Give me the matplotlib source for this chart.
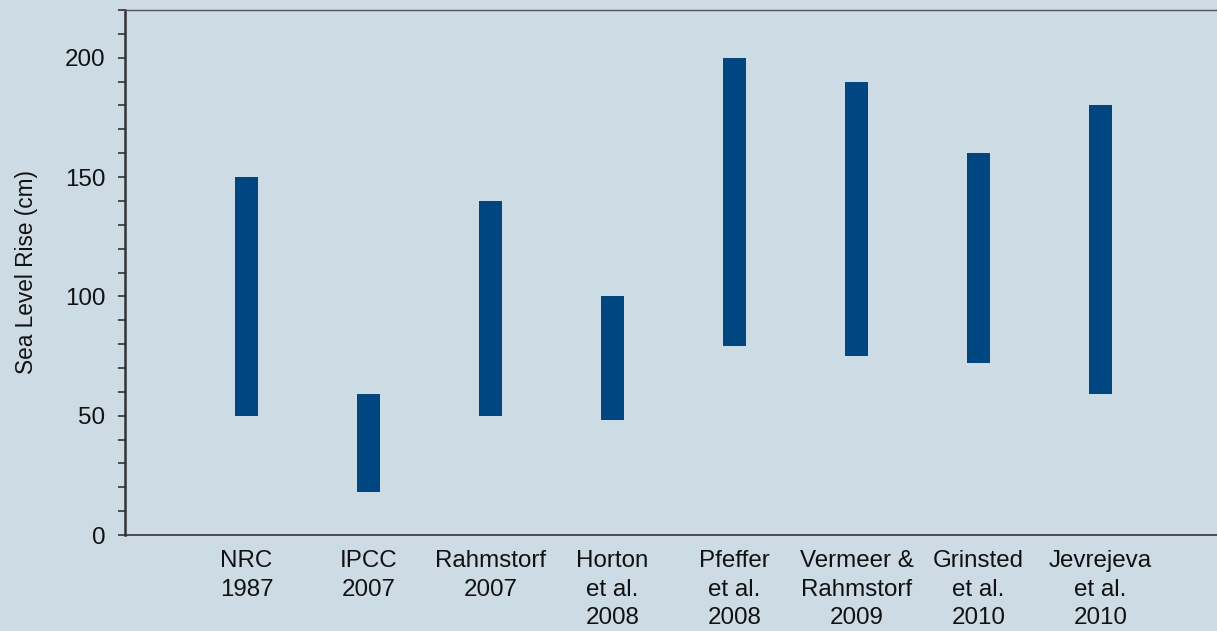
import matplotlib
matplotlib.use("Agg")
import matplotlib.pyplot as plt
from matplotlib.ticker import MultipleLocator

categories = ["NRC\n1987", "IPCC\n2007", "Rahmstorf\n2007", "Horton\net al.\n2008",
              "Pfeffer\net al.\n2008", "Vermeer &\nRahmstorf\n2009", "Grinsted\net al.\n2010",
              "Jevrejeva\net al.\n2010"]
low_cm = [50, 18, 50, 48, 79, 75, 72, 59]
high_cm = [150, 59, 140, 100, 200, 190, 160, 180]

plt.rcParams['font.family'] = ['Liberation Sans', 'DejaVu Sans']
bg = '#cddbe5'
bar_color = '#004680'
spine_color = '#333333'

fig = plt.figure(figsize=(12.17, 6.31), dpi=100, facecolor=bg)
ax = fig.add_axes([124.5/1217, (631-535)/631, 1 - 124.5/1217, (535-10)/631])
ax.set_facecolor(bg)

x = list(range(1, len(categories) + 1))
heights = [h - l for h, l in zip(high_cm, low_cm)]
ax.bar(x, heights, bottom=low_cm, width=0.19, color=bar_color, linewidth=0)

ax.set_xlim(0, (1217 - 124.5) / 122)
ax.set_ylim(0, 220)
ax.set_xticks(x)
ax.set_xticklabels(categories, fontsize=17.4, color='#111111', linespacing=1.38, va='top')
ax.tick_params(axis='x', length=0, pad=11)
ax.yaxis.set_major_locator(MultipleLocator(50))
ax.yaxis.set_minor_locator(MultipleLocator(10))
ax.tick_params(axis='y', which='both', length=5, width=1.2, color=spine_color,
               labelsize=17.4, labelcolor='#111111', pad=9)
ax.set_ylabel("Sea Level Rise (cm)", fontsize=16.3, color='#111111', labelpad=19)

ax.spines['right'].set_visible(False)
ax.spines['left'].set_color(spine_color)
ax.spines['left'].set_linewidth(1.8)
ax.spines['bottom'].set_color(spine_color)
ax.spines['bottom'].set_linewidth(1.2)
ax.spines['top'].set_color('#555555')
ax.spines['top'].set_linewidth(1.0)

fig.savefig("out.png", dpi=100, facecolor=bg)
